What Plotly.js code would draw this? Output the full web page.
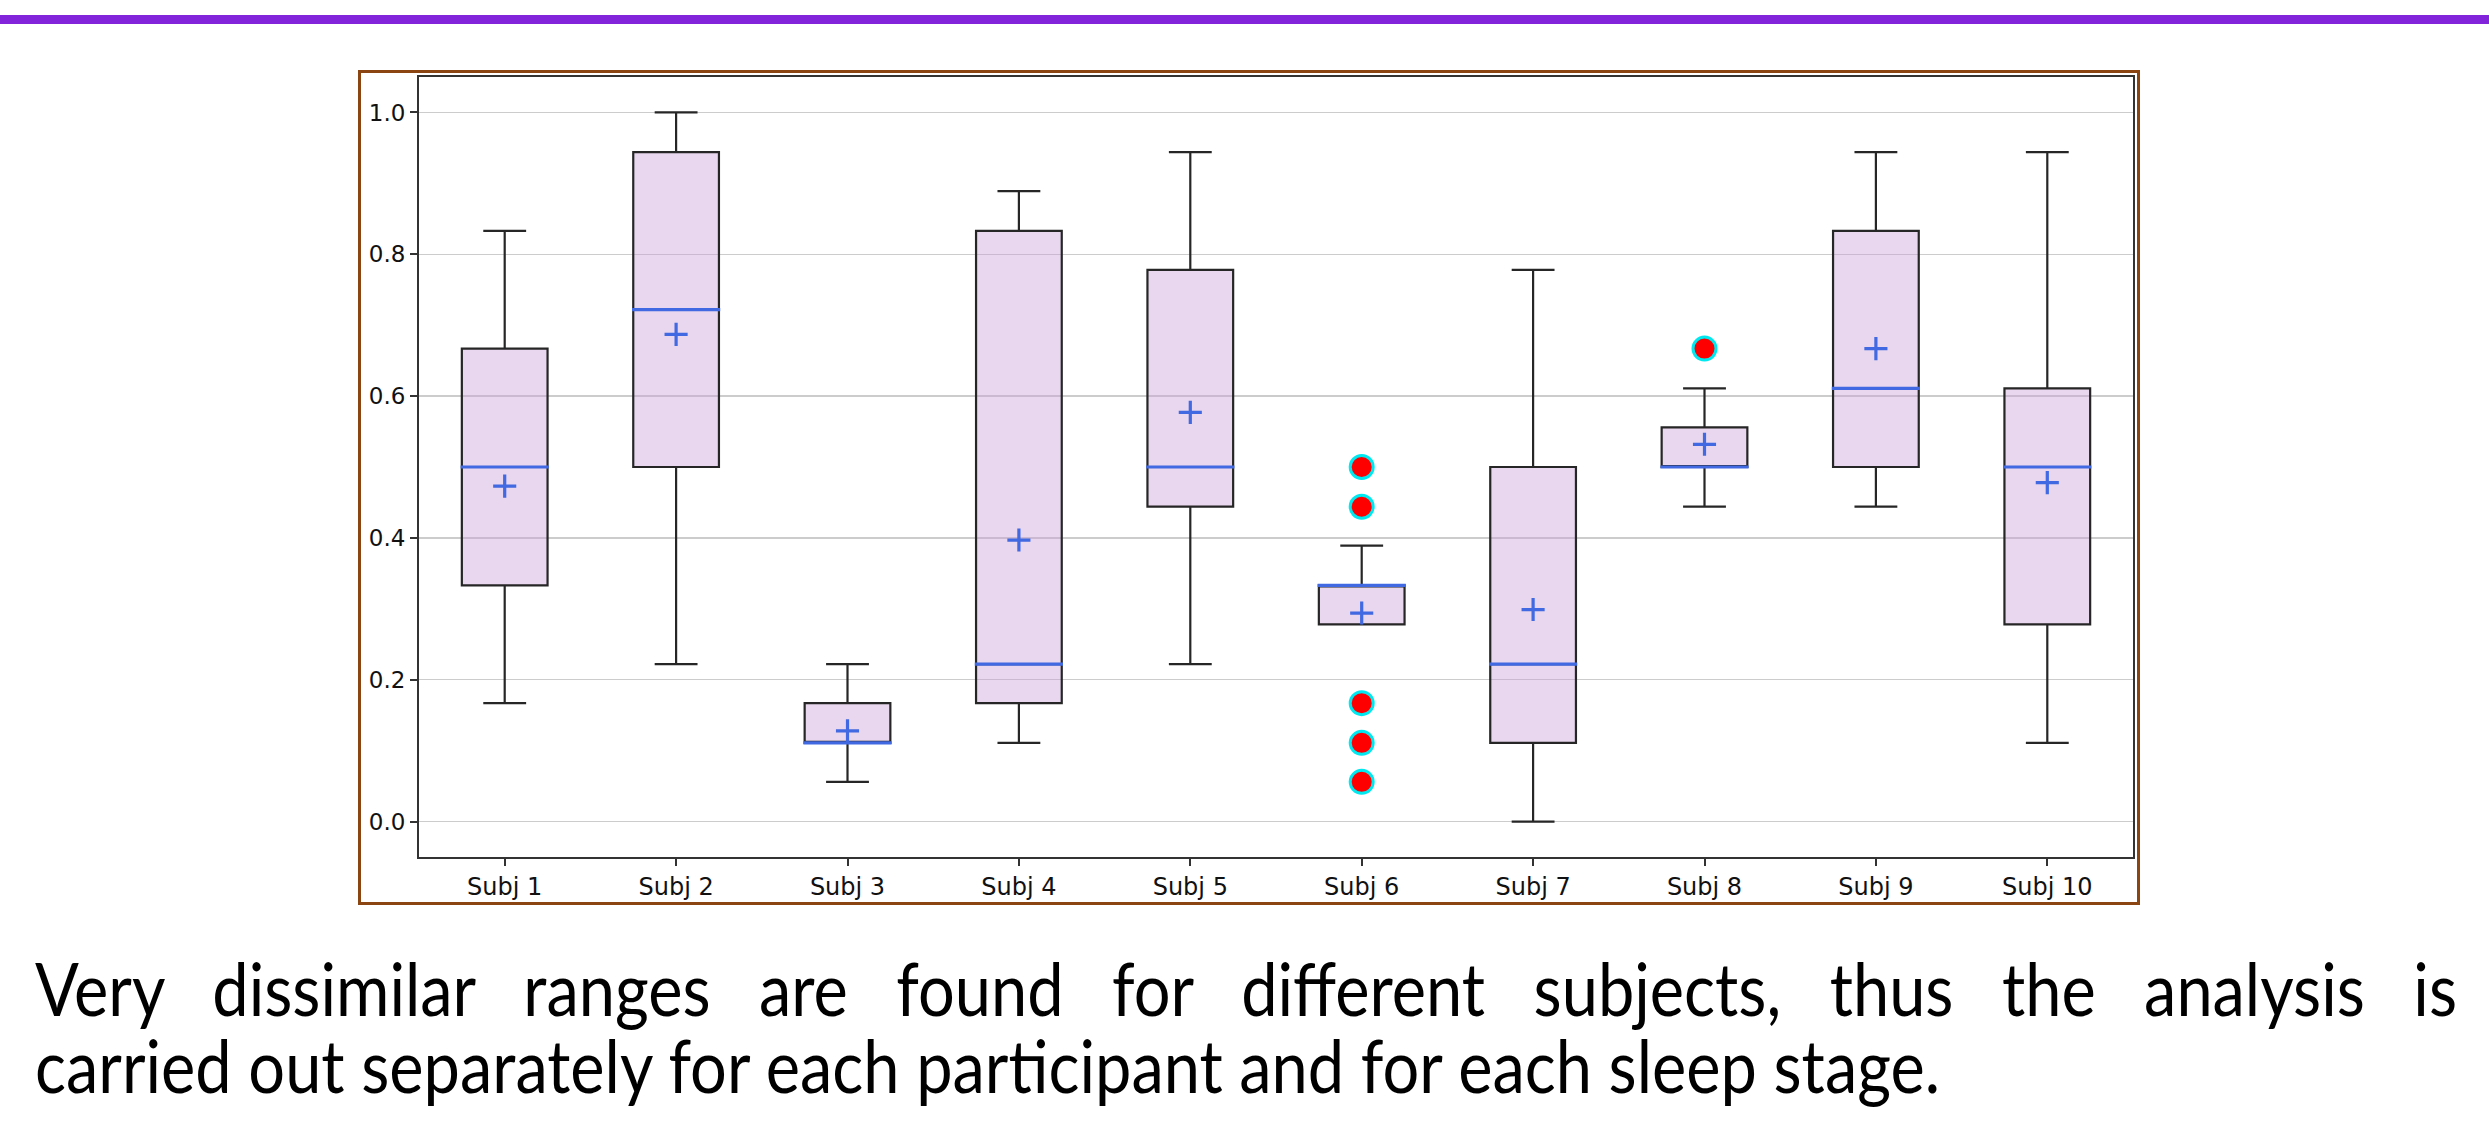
<!DOCTYPE html>
<html>
<head>
<meta charset="utf-8">
<script src="https://cdn.plot.ly/plotly-3.0.1.min.js"></script>
<style>
  html, body { margin:0; padding:0; background:#ffffff; }
  #wrap { position:relative; width:2489px; height:1124px; overflow:hidden; background:#fff; }
  #topbar { position:absolute; left:0; top:15px; width:2489px; height:9px; background:#8224DA; }
  #frame { position:absolute; left:358px; top:70px; width:1782px; height:835px; box-sizing:border-box; border:3px solid #8B4513; }
  #chart { position:absolute; left:0; top:0; width:2489px; height:1124px; }
  .line { position:absolute; left:0; white-space:nowrap; font-family:Lato, "Open Sans", sans-serif; font-size:74px; line-height:74px; color:#000; transform-origin:0 0; }
</style>
</head>
<body>
<div id="wrap">
  <div id="chart"></div>
  <div id="topbar"></div>
  <div id="frame"></div>
  <div class="line" id="l1"></div>
  <div class="line" id="l2"></div>
</div>
<script>
// ---- data ----
const subjects   = ["Subj 1","Subj 2","Subj 3","Subj 4","Subj 5","Subj 6","Subj 7","Subj 8","Subj 9","Subj 10"];
const lowerFence = [0.167, 0.222, 0.056, 0.111, 0.222, 0.278, 0.000, 0.444, 0.444, 0.111];
const q1Vals     = [0.333, 0.500, 0.111, 0.167, 0.444, 0.278, 0.111, 0.500, 0.500, 0.278];
const medianVals = [0.500, 0.722, 0.111, 0.222, 0.500, 0.333, 0.222, 0.500, 0.611, 0.500];
const q3Vals     = [0.667, 0.944, 0.167, 0.833, 0.778, 0.333, 0.500, 0.556, 0.833, 0.611];
const upperFence = [0.833, 1.000, 0.222, 0.889, 0.944, 0.389, 0.778, 0.611, 0.944, 0.944];
const meanVals   = [0.473, 0.687, 0.128, 0.397, 0.577, 0.294, 0.299, 0.532, 0.667, 0.478];
const outlierSubj = ["Subj 6","Subj 6","Subj 6","Subj 6","Subj 6","Subj 8"];
const outlierVals = [0.500, 0.444, 0.167, 0.111, 0.056, 0.667];
const yTicks = [0.0, 0.2, 0.4, 0.6, 0.8, 1.0];
const caption1 = "Very dissimilar ranges are found for different subjects, thus the analysis is";
const caption2 = "carried out separately for each participant and for each sleep stage.";

// ---- chart ----
const traces = [
  {
    type: 'box',
    x: subjects,
    q1: q1Vals, median: medianVals, q3: q3Vals,
    lowerfence: lowerFence, upperfence: upperFence,
    fillcolor: 'rgba(200,160,215,0.42)',
    line: { color: '#262626', width: 2.2 },
    width: 0.5,
    whiskerwidth: 0.5,
    boxpoints: false,
    hoverinfo: 'skip'
  },
  {
    type: 'scatter', mode: 'markers',
    x: subjects, y: medianVals,
    marker: { symbol: 'line-ew', size: 63, line: { color: '#4169E1', width: 3.2 } },
    hoverinfo: 'skip'
  },
  {
    type: 'scatter', mode: 'markers',
    x: subjects, y: meanVals,
    marker: { symbol: 'cross-thin', size: 16.5, line: { color: '#4169E1', width: 3.2 } },
    hoverinfo: 'skip'
  },
  {
    type: 'scatter', mode: 'markers',
    x: outlierSubj, y: outlierVals,
    marker: { symbol: 'circle', size: 23, color: '#FF0000', line: { color: '#00E8F0', width: 3 } },
    hoverinfo: 'skip'
  }
];

const layout = {
  width: 2489, height: 1124,
  paper_bgcolor: 'rgba(0,0,0,0)', plot_bgcolor: '#ffffff',
  margin: { l: 419, r: 356, t: 77, b: 267, pad: 0 },
  showlegend: false,
  font: { family: 'DejaVu Sans, sans-serif', size: 23, color: '#111' },
  xaxis: {
    type: 'category', range: [-0.5, 9.5],
    showline: true, mirror: true, linecolor: '#333', linewidth: 2,
    ticks: 'outside', ticklen: 7, tickwidth: 2, tickcolor: '#333',
    showgrid: false, zeroline: false,
    tickfont: { size: 24, color: '#111' }
  },
  yaxis: {
    range: [-0.05, 1.05],
    tickvals: yTicks, ticktext: yTicks.map(v => v.toFixed(1)),
    showline: true, mirror: true, linecolor: '#333', linewidth: 2,
    ticks: 'outside', ticklen: 7, tickwidth: 2, tickcolor: '#333',
    showgrid: true, gridcolor: '#cccccc', gridwidth: 1.5, zeroline: false,
    tickfont: { size: 23, color: '#111' }
  }
};

Plotly.newPlot('chart', traces, layout, { staticPlot: true, displayModeBar: false });

// ---- caption (real text) ----
const l1 = document.getElementById('l1');
const l2 = document.getElementById('l2');
l1.textContent = caption1;
l2.textContent = caption2;
function fitCaption() {
  const target2 = 1905;
  const w2 = l2.getBoundingClientRect().width;
  const s = target2 / w2;
  l2.style.transform = 'scaleX(' + s + ')';
  l2.style.left = '35px';
  l2.style.top = '1028px';
  // line 1: justify by word spacing
  const w1 = l1.getBoundingClientRect().width;
  const spaces = caption1.split(' ').length - 1;
  const target1 = 2422 / s;
  const extra = (target1 - w1) / spaces;
  l1.style.wordSpacing = extra + 'px';
  l1.style.transform = 'scaleX(' + s + ')';
  l1.style.left = '35px';
  l1.style.top = '951px';
}
if (document.fonts && document.fonts.ready) { document.fonts.ready.then(fitCaption); } else { fitCaption(); }
</script>
</body>
</html>
